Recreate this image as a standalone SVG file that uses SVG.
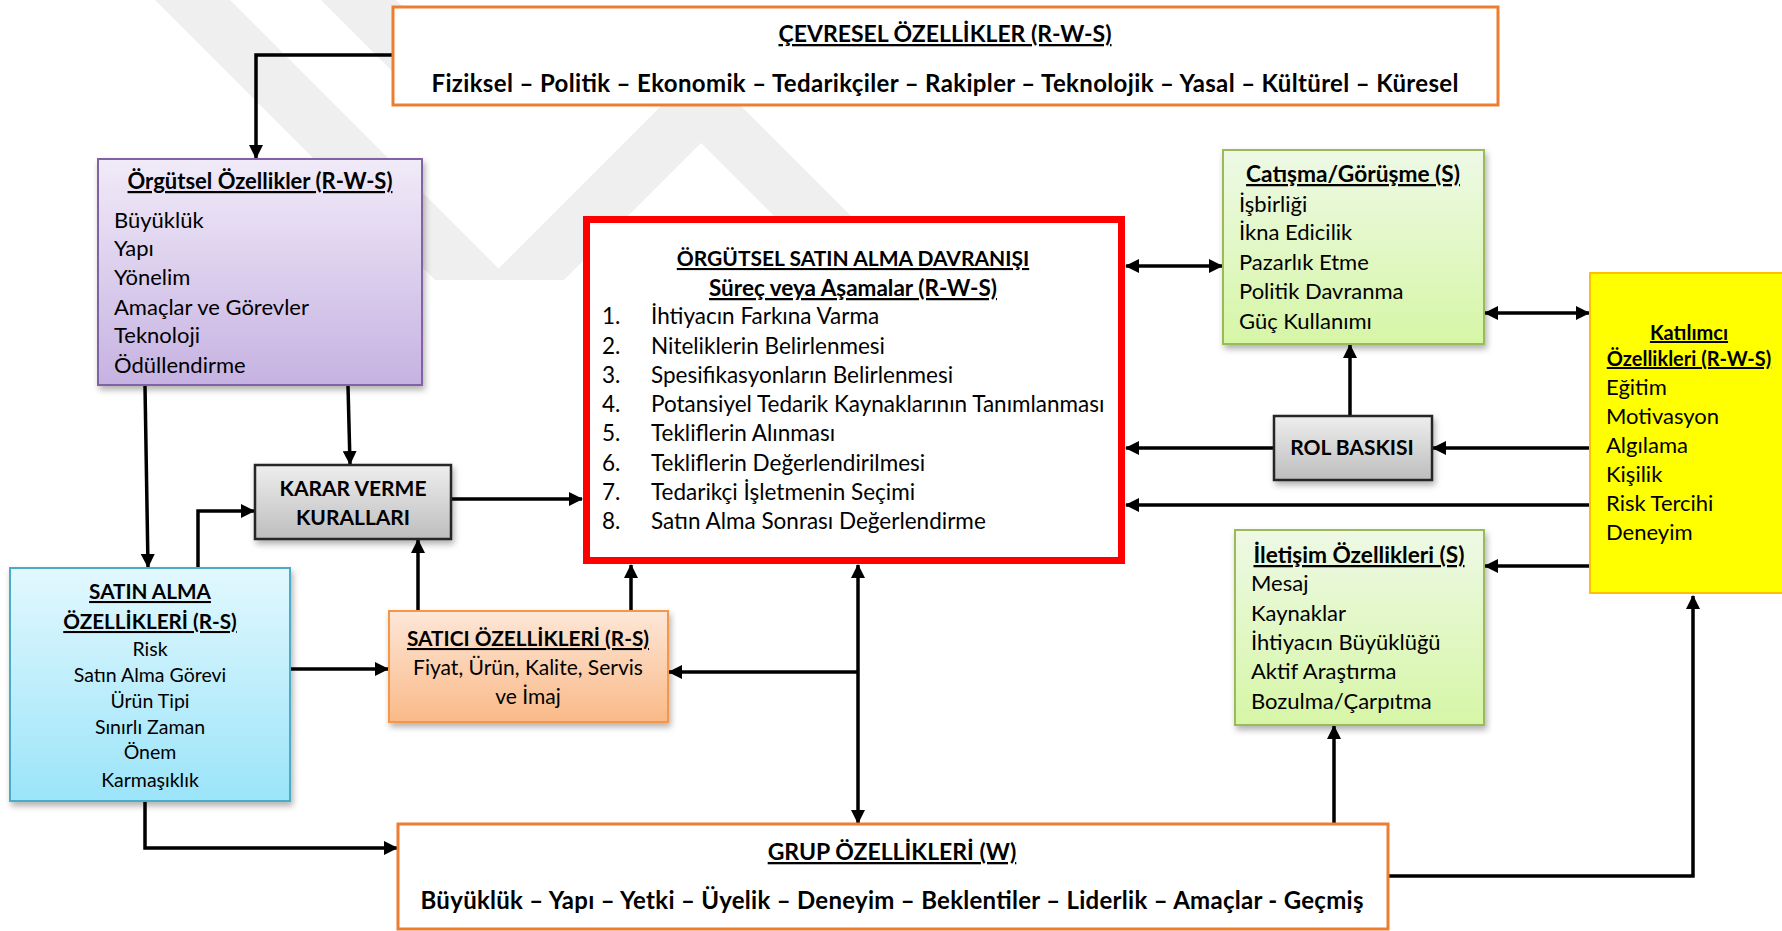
<svg xmlns="http://www.w3.org/2000/svg" width="1782" height="931" viewBox="0 0 1782 931">
  <defs>
    <style>
      text { font-family: Lato, "Liberation Sans", sans-serif; fill: #000; }
      .t { font-weight: bold; text-decoration: underline; text-anchor: middle; }
      .b { font-weight: bold; text-anchor: middle; }
      .i { font-size: 22px; }
      .r { font-size: 22.5px; }
      .c { text-anchor: middle; font-size: 19.5px; }
      .con { fill: none; stroke: #000; stroke-width: 3.5; marker-end: url(#ah); }
      .dbl { marker-start: url(#ahs); }
      .wm { fill: #efefef; }
    </style>
    <marker id="ah" viewBox="0 0 14 14" refX="13" refY="7" markerWidth="14" markerHeight="14" markerUnits="userSpaceOnUse" orient="auto">
      <path d="M0,0 L14,7 L0,14 z" fill="#000"/>
    </marker>
    <marker id="ahs" viewBox="0 0 14 14" refX="13" refY="7" markerWidth="14" markerHeight="14" markerUnits="userSpaceOnUse" orient="auto-start-reverse">
      <path d="M0,0 L14,7 L0,14 z" fill="#000"/>
    </marker>
    <filter id="sh" x="-10%" y="-10%" width="125%" height="130%">
      <feDropShadow dx="2" dy="4" stdDeviation="3" flood-color="#000" flood-opacity="0.3"/>
    </filter>
    <linearGradient id="gPurple" x1="0" y1="0" x2="0" y2="1">
      <stop offset="0" stop-color="#f1ebf8"/>
      <stop offset="1" stop-color="#c6b2e2"/>
    </linearGradient>
    <linearGradient id="gBlue" x1="0" y1="0" x2="0" y2="1">
      <stop offset="0" stop-color="#e2f8fe"/>
      <stop offset="1" stop-color="#9be4f9"/>
    </linearGradient>
    <linearGradient id="gOrange" x1="0" y1="0" x2="0" y2="1">
      <stop offset="0" stop-color="#fde7d8"/>
      <stop offset="1" stop-color="#fab987"/>
    </linearGradient>
    <linearGradient id="gGreen" x1="0" y1="0" x2="0" y2="1">
      <stop offset="0" stop-color="#eef9e6"/>
      <stop offset="1" stop-color="#d6f6a6"/>
    </linearGradient>
    <linearGradient id="gGray" x1="0" y1="0" x2="0" y2="1">
      <stop offset="0" stop-color="#eeeeee"/>
      <stop offset="1" stop-color="#bdbdbd"/>
    </linearGradient>
  </defs>

  <rect width="1782" height="931" fill="#fff"/>

  <!-- faint background emblem -->
  <g id="emblem">
    <polygon class="wm" points="155,0 230,0 510,280 435,280"/>
    <polygon class="wm" points="321,0 396,0 500,104 425,104"/>
    <polygon class="wm" points="701,66 915,280 838,280 701,143 564,280 487,280"/>
  </g>

  <!-- connectors -->
  <g id="connectors">
    <path class="con" d="M393,55 H256 V158"/>
    <path class="con" d="M145,386 L148,567"/>
    <path class="con" d="M348,386 L350,464"/>
    <path class="con" d="M198,568 V511 H254"/>
    <path class="con" d="M451,499 H582"/>
    <path class="con" d="M290,669 H388"/>
    <path class="con" d="M418,611 V540"/>
    <path class="con" d="M631,611 V565"/>
    <path class="con dbl" d="M858,565 V823"/>
    <path class="con" d="M858,672 H669"/>
    <path class="con" d="M145,801 V848 H397"/>
    <path class="con" d="M1388,876 H1693 V596"/>
    <path class="con" d="M1334,824 V726"/>
    <path class="con" d="M1590,566 H1485"/>
    <path class="con" d="M1590,505 H1126"/>
    <path class="con" d="M1590,448 H1433"/>
    <path class="con" d="M1274,448 H1126"/>
    <path class="con" d="M1350,416 V345"/>
    <path class="con dbl" d="M1126,266 H1222"/>
    <path class="con dbl" d="M1485,313 H1589"/>
  </g>

  <!-- environmental characteristics -->
  <g id="cevresel">
    <rect x="393" y="7" width="1105" height="98" fill="#fff" stroke="#ed7d31" stroke-width="3"/>
    <text class="t" x="945" y="42" font-size="23">ÇEVRESEL ÖZELLİKLER (R-W-S)</text>
    <text class="b" x="945" y="92" font-size="24" textLength="1027">Fiziksel – Politik – Ekonomik – Tedarikçiler – Rakipler – Teknolojik – Yasal – Kültürel – Küresel</text>
  </g>

  <!-- organisational characteristics -->
  <g id="orgutsel">
    <rect x="98" y="159" width="324" height="226" fill="url(#gPurple)" stroke="#8064a2" stroke-width="2" filter="url(#sh)"/>
    <text class="t" x="260" y="189" font-size="22">Örgütsel Özellikler (R-W-S)</text>
    <text class="i" x="114" y="228">Büyüklük</text>
    <text class="i" x="114" y="256">Yapı</text>
    <text class="i" x="114" y="285">Yönelim</text>
    <text class="i" x="114" y="315">Amaçlar ve Görevler</text>
    <text class="i" x="114" y="343">Teknoloji</text>
    <text class="i" x="114" y="373">Ödüllendirme</text>
  </g>

  <!-- organisational buying behaviour -->
  <g id="davranis">
    <rect x="586.5" y="219.5" width="535" height="341" fill="#fff" stroke="#ff0000" stroke-width="7"/>
    <text class="t" x="853" y="266" font-size="21">ÖRGÜTSEL SATIN ALMA DAVRANIŞI</text>
    <text class="t" x="853" y="296" font-size="22.5">Süreç veya Aşamalar (R-W-S)</text>
    <g class="r">
      <text x="602" y="324">1.</text><text x="651" y="324">İhtiyacın Farkına Varma</text>
      <text x="602" y="354">2.</text><text x="651" y="354">Niteliklerin Belirlenmesi</text>
      <text x="602" y="383">3.</text><text x="651" y="383">Spesifikasyonların Belirlenmesi</text>
      <text x="602" y="412">4.</text><text x="651" y="412">Potansiyel Tedarik Kaynaklarının Tanımlanması</text>
      <text x="602" y="441">5.</text><text x="651" y="441">Tekliflerin Alınması</text>
      <text x="602" y="471">6.</text><text x="651" y="471">Tekliflerin Değerlendirilmesi</text>
      <text x="602" y="500">7.</text><text x="651" y="500">Tedarikçi İşletmenin Seçimi</text>
      <text x="602" y="529">8.</text><text x="651" y="529">Satın Alma Sonrası Değerlendirme</text>
    </g>
  </g>

  <!-- conflict / negotiation -->
  <g id="catisma">
    <rect x="1223" y="150" width="261" height="194" fill="url(#gGreen)" stroke="#9bbb59" stroke-width="2" filter="url(#sh)"/>
    <text class="t" x="1353" y="182" font-size="22.7">Catışma/Görüşme (S)</text>
    <text class="i" x="1239" y="212">İşbirliği</text>
    <text class="i" x="1239" y="240">İkna Edicilik</text>
    <text class="i" x="1239" y="270">Pazarlık Etme</text>
    <text class="i" x="1239" y="299">Politik Davranma</text>
    <text class="i" x="1239" y="329">Güç Kullanımı</text>
  </g>

  <!-- participant characteristics -->
  <g id="katilimci">
    <rect x="1590" y="273" width="200" height="320" fill="#ffff00" stroke="#ffc000" stroke-width="2"/>
    <text class="t" x="1689" y="340" font-size="20">Katılımcı</text>
    <text class="t" x="1689" y="366" font-size="20">Özellikleri (R-W-S)</text>
    <text class="i" x="1606" y="395">Eğitim</text>
    <text class="i" x="1606" y="424">Motivasyon</text>
    <text class="i" x="1606" y="453">Algılama</text>
    <text class="i" x="1606" y="482">Kişilik</text>
    <text class="i" x="1606" y="511">Risk Tercihi</text>
    <text class="i" x="1606" y="540">Deneyim</text>
  </g>

  <!-- role pressure -->
  <g id="rol">
    <rect x="1274" y="416" width="158" height="64" fill="url(#gGray)" stroke="#262626" stroke-width="2.5" filter="url(#sh)"/>
    <text class="b" x="1352" y="455" font-size="21">ROL BASKISI</text>
  </g>

  <!-- communication characteristics -->
  <g id="iletisim">
    <rect x="1235" y="530" width="249" height="195" fill="url(#gGreen)" stroke="#9bbb59" stroke-width="2" filter="url(#sh)"/>
    <text class="t" x="1359" y="563" font-size="22.7">İletişim Özellikleri (S)</text>
    <text class="i" x="1251" y="591">Mesaj</text>
    <text class="i" x="1251" y="621">Kaynaklar</text>
    <text class="i" x="1251" y="650">İhtiyacın Büyüklüğü</text>
    <text class="i" x="1251" y="679">Aktif Araştırma</text>
    <text class="i" x="1251" y="709">Bozulma/Çarpıtma</text>
  </g>

  <!-- decision rules -->
  <g id="karar">
    <rect x="255" y="465" width="196" height="74" fill="url(#gGray)" stroke="#262626" stroke-width="2.5" filter="url(#sh)"/>
    <text class="b" x="353" y="496" font-size="21">KARAR VERME</text>
    <text class="b" x="353" y="525" font-size="21">KURALLARI</text>
  </g>

  <!-- purchase characteristics -->
  <g id="satinalma">
    <rect x="10" y="568" width="280" height="233" fill="url(#gBlue)" stroke="#4bacc6" stroke-width="2" filter="url(#sh)"/>
    <text class="t" x="150" y="599" font-size="20.7">SATIN ALMA</text>
    <text class="t" x="150" y="629" font-size="20.7">ÖZELLİKLERİ (R-S)</text>
    <text class="c" x="150" y="656">Risk</text>
    <text class="c" x="150" y="682">Satın Alma Görevi</text>
    <text class="c" x="150" y="708">Ürün Tipi</text>
    <text class="c" x="150" y="734">Sınırlı Zaman</text>
    <text class="c" x="150" y="759">Önem</text>
    <text class="c" x="150" y="787">Karmaşıklık</text>
  </g>

  <!-- vendor characteristics -->
  <g id="satici">
    <rect x="389" y="611" width="279" height="111" fill="url(#gOrange)" stroke="#f79646" stroke-width="2" filter="url(#sh)"/>
    <text class="t" x="528" y="646" font-size="20.8">SATICI ÖZELLİKLERİ (R-S)</text>
    <text x="528" y="675" text-anchor="middle" font-size="21">Fiyat, Ürün, Kalite, Servis</text>
    <text x="528" y="704" text-anchor="middle" font-size="21">ve İmaj</text>
  </g>

  <!-- group characteristics -->
  <g id="grup">
    <rect x="398" y="824" width="990" height="105" fill="#fff" stroke="#ed7d31" stroke-width="3"/>
    <text class="t" x="892" y="860" font-size="23">GRUP ÖZELLİKLERİ (W)</text>
    <text class="b" x="892" y="909" font-size="24" textLength="943">Büyüklük – Yapı – Yetki – Üyelik – Deneyim – Beklentiler – Liderlik – Amaçlar - Geçmiş</text>
  </g>
</svg>
